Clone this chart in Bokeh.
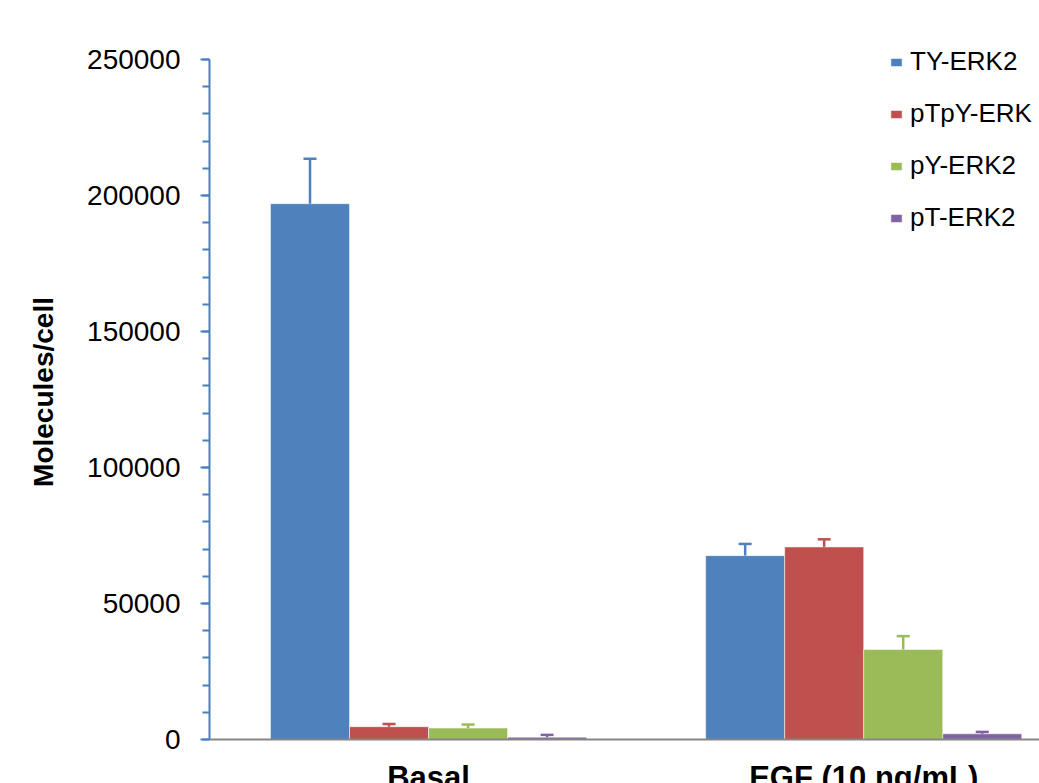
from bokeh.plotting import figure
from bokeh.models import (ColumnDataSource, Range1d, SingleIntervalTicker, NumeralTickFormatter,
                          Legend, LegendItem, Label, Span)
from bokeh.embed import file_html
from bokeh.resources import INLINE

# ---- data ----
categories = ["Basal", "EGF (10 ng/mL)"]
series = ["TY-ERK2", "pTpY-ERK", "pY-ERK2", "pT-ERK2"]
values = {
    "TY-ERK2":  [197000, 67600],
    "pTpY-ERK": [4700, 70800],
    "pY-ERK2":  [4200, 33100],
    "pT-ERK2":  [850, 2100],
}
errors = {
    "TY-ERK2":  [16500, 4300],
    "pTpY-ERK": [1000, 2800],
    "pY-ERK2":  [1300, 4900],
    "pT-ERK2":  [850, 700],
}
colors = ["#4F81BD", "#C0504D", "#9BBB59", "#8064A2"]
y_max = 250000

FONT = "Liberation Sans"
W, H = 1039, 783
LEFT = 209
# pixel layout: y=0 sits 44px above the bottom, y_max sits 59px below the top
px_per_unit = 680 / y_max
y_start = -44 / px_per_unit
y_end = y_max + 59 / px_per_unit

p = figure(width=W, height=H, output_backend="svg", toolbar_location=None,
           x_range=Range1d(-0.5034, 1.404), y_range=Range1d(y_start, y_end),
           min_border_left=LEFT, min_border_right=0, min_border_top=0, min_border_bottom=0)
p.outline_line_color = None
p.xgrid.grid_line_color = None
p.ygrid.grid_line_color = None
p.xaxis.visible = False
p.background_fill_color = "white"
p.border_fill_color = "white"

# x axis line
p.add_layout(Span(location=0, dimension="width", line_color="#868686", line_width=2))

bar_w = 0.1816
n = len(series)
items = []
for i, s in enumerate(series):
    off = (i - (n - 1) / 2) * bar_w
    xs = [j + off for j in range(len(categories))]
    tops = [v + e for v, e in zip(values[s], errors[s])]
    src = ColumnDataSource(dict(x=xs, top=values[s], etop=tops))
    r = p.vbar(x="x", top="top", width=bar_w, bottom=0, source=src,
               fill_color=colors[i], line_color="white", line_alpha=0.5, line_width=1)
    p.segment(x0="x", y0="top", x1="x", y1="etop", source=src, line_color=colors[i], line_width=2.5)
    p.scatter(x="x", y="etop", source=src, marker="dash", size=13, line_color=colors[i], line_width=2.5)
    items.append(LegendItem(label=s, renderers=[r]))

# y axis
ya = p.yaxis[0]
ya.bounds = (0, y_max)
ya.ticker = SingleIntervalTicker(interval=50000, num_minor_ticks=5)
ya.formatter = NumeralTickFormatter(format="0")
ya.axis_line_color = "#4A7EBB"
ya.axis_line_width = 2
ya.major_tick_line_color = "#4A7EBB"
ya.major_tick_line_width = 2
ya.minor_tick_line_color = "#4A7EBB"
ya.minor_tick_line_width = 2
ya.major_tick_in = 0
ya.major_tick_out = 9
ya.minor_tick_in = 0
ya.minor_tick_out = 7
ya.major_label_text_font = FONT
ya.major_label_text_font_size = "28px"
ya.major_label_text_color = "black"
ya.major_label_standoff = 20
ya.axis_label = "Molecules/cell"
ya.axis_label_text_font = FONT
ya.axis_label_text_font_style = "bold"
ya.axis_label_text_font_size = "28px"
ya.axis_label_text_color = "black"
ya.axis_label_standoff = 25

for j, c in enumerate(categories):
    p.add_layout(Label(x=j, y=24, y_units="screen", text=c, text_align="center",
                       text_baseline="top", text_font=FONT, text_font_style="bold",
                       text_font_size="31px", text_color="black"))

leg = Legend(items=items, location=(680, 550), orientation="vertical",
             glyph_width=14, glyph_height=10, label_standoff=7, spacing=21,
             padding=0, margin=0, border_line_color=None, background_fill_alpha=0,
             label_text_font=FONT, label_text_font_size="26px", label_text_color="black")
p.add_layout(leg)

open("out.html", "w").write(file_html(p, INLINE))
